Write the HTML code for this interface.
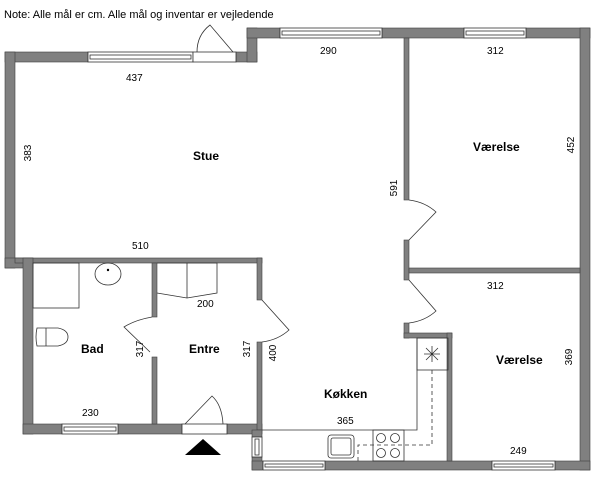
<!DOCTYPE html>
<html><head><style>
body{margin:0;background:#fff}
svg{display:block}
text{font-family:"Liberation Sans",sans-serif;fill:#000}
.d{font-size:10px}
.l{font-size:12px;font-weight:bold}
</style></head><body>
<svg width="600" height="483" viewBox="0 0 600 483" xmlns="http://www.w3.org/2000/svg">
<text x="4" y="18" style="font-size:11px">Note: Alle mål er cm. Alle mål og inventar er vejledende</text>
<g fill="#808080" stroke="#404040" stroke-width="0.6">
<rect x="5" y="52" width="83" height="10"/>
<rect x="236" y="52" width="21" height="10"/>
<rect x="247" y="28" width="10" height="34"/>
<rect x="247" y="28" width="33" height="10"/>
<rect x="382" y="28" width="82" height="10"/>
<rect x="526" y="28" width="64" height="10"/>
<rect x="580" y="28" width="10" height="442"/>
<rect x="5" y="52" width="10" height="216"/>
<rect x="5" y="258" width="28" height="10"/>
<rect x="15" y="258" width="247" height="5"/>
<rect x="23" y="258" width="10" height="176"/>
<rect x="23" y="424" width="39" height="10"/>
<rect x="118" y="424" width="64" height="10"/>
<rect x="227" y="424" width="35" height="10"/>
<rect x="152" y="263" width="5" height="54"/>
<rect x="152" y="357" width="5" height="67"/>
<rect x="257" y="258" width="5" height="42"/>
<rect x="257" y="342" width="5" height="88"/>
<rect x="252" y="430" width="10" height="7"/>
<rect x="252" y="457" width="10" height="13"/>
<rect x="252" y="461" width="11" height="9"/>
<rect x="325" y="461" width="167" height="9"/>
<rect x="555" y="461" width="35" height="9"/>
<rect x="404" y="38" width="5" height="162"/>
<rect x="404" y="240" width="5" height="40"/>
<rect x="404" y="323" width="5" height="15"/>
<rect x="404" y="333" width="48" height="5"/>
<rect x="447" y="333" width="5" height="128"/>
<rect x="409" y="268" width="171" height="5"/>
</g>
<g fill="#fff" stroke="#333" stroke-width="0.8">
<rect x="88" y="52" width="105" height="10"/><rect x="90" y="55" width="101" height="4"/>
<rect x="280" y="28" width="102" height="10"/><rect x="282" y="31" width="98" height="4"/>
<rect x="464" y="28" width="62" height="10"/><rect x="466" y="31" width="58" height="4"/>
<rect x="62" y="424" width="56" height="10"/><rect x="64" y="427" width="52" height="4"/>
<rect x="263" y="461" width="62" height="9"/><rect x="265" y="464" width="58" height="3"/>
<rect x="492" y="461" width="63" height="9"/><rect x="494" y="464" width="59" height="3"/>
<rect x="252" y="437" width="10" height="20"/><rect x="255" y="439" width="4" height="16"/>
<rect x="193" y="52" width="43" height="10"/>
<rect x="182" y="424" width="45" height="10"/>
</g>
<g fill="none" stroke="#333" stroke-width="0.8">
<path d="M197 52 Q197 35 210 25 L233 52"/>
<path d="M185 424 L212 396 Q222 405 223 424"/>
<path d="M409 200 Q425 202 436 212 L409 240"/>
<path d="M409 280 L436 311 Q425 321 409 323"/>
<path d="M262 300 L289 330 Q278 340 262 342"/>
<path d="M152 317 Q135 320 124 327 L150 352"/>
<path d="M262 430 H417 V338"/>
<rect x="417" y="338" width="31" height="32"/>
<path d="M424 354 H440 M432 346 V362 M426 348 L438 360 M438 348 L426 360"/>
<path d="M432 370 V445 H358 V461" stroke-dasharray="4 3"/>
<rect x="328" y="435" width="26" height="23" rx="3"/>
<rect x="331" y="438" width="20" height="17" rx="2"/>
<rect x="373" y="430" width="31" height="31"/>
<circle cx="381" cy="438" r="4.5"/><circle cx="395" cy="438" r="4.5"/>
<circle cx="381" cy="453" r="4.5"/><circle cx="395" cy="453" r="4.5"/>
<rect x="33" y="263" width="46" height="45"/>
<ellipse cx="108" cy="274" rx="13" ry="11"/>
<path d="M37 328 H58 Q68 330 68 337 Q68 344 58 346 H37 Q35 337 37 328 Z M46 328 V346"/>
<path d="M157 263 H217 V293 L187 298 L157 293 M187 263 V298"/>
</g>
<circle cx="108" cy="270" r="1.2" fill="#000"/>
<polygon points="185,455 203,439 221,455" fill="#000"/>
<text class="l" x="193" y="160">Stue</text>
<text class="l" x="473" y="151">Værelse</text>
<text class="l" x="496" y="364">Værelse</text>
<text class="l" x="81" y="353">Bad</text>
<text class="l" x="189" y="353">Entre</text>
<text class="l" x="324" y="398">Køkken</text>
<g class="d">
<text x="126" y="81">437</text>
<text x="320" y="54">290</text>
<text x="487" y="54">312</text>
<text x="132" y="249">510</text>
<text x="487" y="289">312</text>
<text x="197" y="307">200</text>
<text x="82" y="416">230</text>
<text x="337" y="424">365</text>
<text x="510" y="454">249</text>
<text transform="translate(31,153) rotate(-90)" text-anchor="middle">383</text>
<text transform="translate(397,188) rotate(-90)" text-anchor="middle">591</text>
<text transform="translate(574,145) rotate(-90)" text-anchor="middle">452</text>
<text transform="translate(143,349) rotate(-90)" text-anchor="middle">317</text>
<text transform="translate(250,349) rotate(-90)" text-anchor="middle">317</text>
<text transform="translate(276,353) rotate(-90)" text-anchor="middle">400</text>
<text transform="translate(572,357) rotate(-90)" text-anchor="middle">369</text>
</g>
</svg>
</body></html>
